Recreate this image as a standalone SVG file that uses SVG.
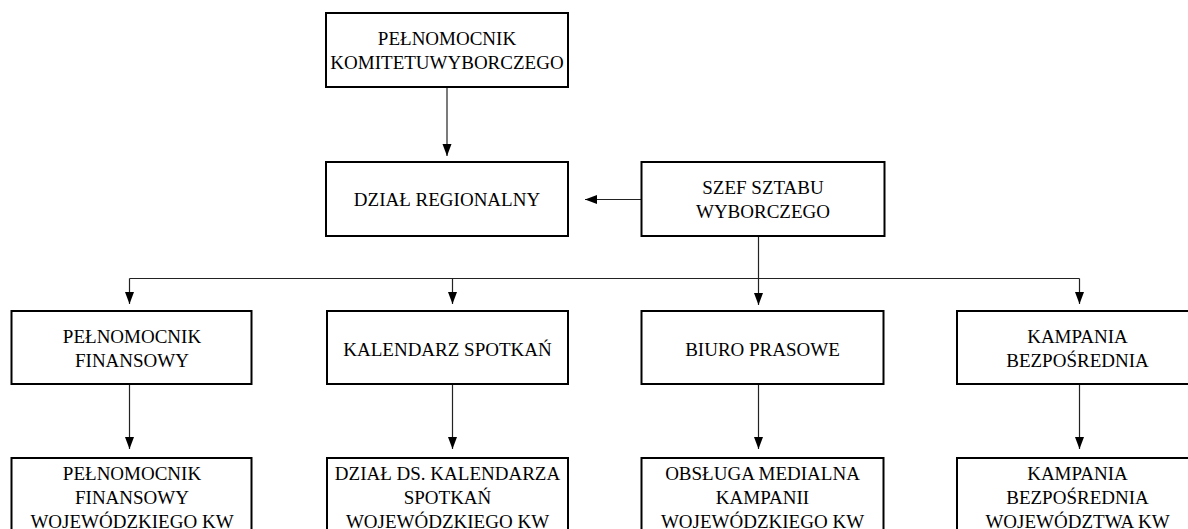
<svg xmlns="http://www.w3.org/2000/svg" width="1188" height="529" viewBox="0 0 1188 529">
  <style>
    .box { fill: #ffffff; stroke: #000000; stroke-width: 2; }
    .lbl { font-family: "Liberation Serif", "DejaVu Serif", serif; font-size: 19px; fill: #000000; text-anchor: middle; }
    .wire { fill: none; stroke: #222222; stroke-width: 1.2; }
  </style>
  <defs>
    <marker id="tip" markerUnits="userSpaceOnUse" markerWidth="12" markerHeight="12" viewBox="0 0 12 12" refX="12" refY="6" orient="auto">
      <path d="M0 1.5 L12 6 L0 10.5 Z" fill="#000000"/>
    </marker>
  </defs>
  <rect width="1188" height="529" fill="#ffffff"/>

  <!-- connectors -->
  <g id="connectors">
    <path class="wire" d="M447 87 V156" marker-end="url(#tip)"/>
    <path class="wire" d="M641 199.5 H585" marker-end="url(#tip)"/>
    <path class="wire" d="M758.5 236 V305" marker-end="url(#tip)"/>
    <path class="wire" d="M129.5 278.5 H1079.5"/>
    <path class="wire" d="M129.5 278.5 V304" marker-end="url(#tip)"/>
    <path class="wire" d="M452.5 278.5 V304" marker-end="url(#tip)"/>
    <path class="wire" d="M1079.5 278.5 V304" marker-end="url(#tip)"/>
    <path class="wire" d="M129.5 385 V449" marker-end="url(#tip)"/>
    <path class="wire" d="M452.5 385 V449" marker-end="url(#tip)"/>
    <path class="wire" d="M758.5 385 V449" marker-end="url(#tip)"/>
    <path class="wire" d="M1079.5 385 V449" marker-end="url(#tip)"/>
  </g>

  <!-- top level -->
  <g id="pelnomocnik-komitetu">
    <rect class="box" x="326" y="13" width="242" height="74"/>
    <text class="lbl" x="447" y="45">PEŁNOMOCNIK</text>
    <text class="lbl" x="447" y="69">KOMITETUWYBORCZEGO</text>
  </g>

  <g id="dzial-regionalny">
    <rect class="box" x="326" y="162" width="242" height="74"/>
    <text class="lbl" x="447" y="206">DZIAŁ REGIONALNY</text>
  </g>

  <g id="szef-sztabu">
    <rect class="box" x="641.5" y="162" width="243" height="74"/>
    <text class="lbl" x="763" y="194">SZEF SZTABU</text>
    <text class="lbl" x="763" y="218">WYBORCZEGO</text>
  </g>

  <!-- second row -->
  <g id="pelnomocnik-finansowy">
    <rect class="box" x="11.5" y="311" width="240" height="73"/>
    <text class="lbl" x="132" y="343">PEŁNOMOCNIK</text>
    <text class="lbl" x="132" y="367">FINANSOWY</text>
  </g>

  <g id="kalendarz-spotkan">
    <rect class="box" x="327" y="311" width="241" height="73"/>
    <text class="lbl" x="447.5" y="356">KALENDARZ SPOTKAŃ</text>
  </g>

  <g id="biuro-prasowe">
    <rect class="box" x="641.5" y="311" width="242" height="73"/>
    <text class="lbl" x="762.5" y="356">BIURO PRASOWE</text>
  </g>

  <g id="kampania-bezposrednia">
    <rect class="box" x="957" y="311" width="241" height="73"/>
    <text class="lbl" x="1077.5" y="343">KAMPANIA</text>
    <text class="lbl" x="1077.5" y="367">BEZPOŚREDNIA</text>
  </g>

  <!-- third row -->
  <g id="pelnomocnik-finansowy-woj">
    <rect class="box" x="11.5" y="458" width="240" height="90"/>
    <text class="lbl" x="132" y="480">PEŁNOMOCNIK</text>
    <text class="lbl" x="132" y="504">FINANSOWY</text>
    <text class="lbl" x="132" y="528">WOJEWÓDZKIEGO KW</text>
  </g>

  <g id="dzial-kalendarza-woj">
    <rect class="box" x="327" y="458" width="241" height="90"/>
    <text class="lbl" x="447.5" y="480">DZIAŁ DS. KALENDARZA</text>
    <text class="lbl" x="447.5" y="504">SPOTKAŃ</text>
    <text class="lbl" x="447.5" y="528">WOJEWÓDZKIEGO KW</text>
  </g>

  <g id="obsluga-medialna-woj">
    <rect class="box" x="641.5" y="458" width="242" height="90"/>
    <text class="lbl" x="762.5" y="480">OBSŁUGA MEDIALNA</text>
    <text class="lbl" x="762.5" y="504">KAMPANII</text>
    <text class="lbl" x="762.5" y="528">WOJEWÓDZKIEGO KW</text>
  </g>

  <g id="kampania-bezposrednia-woj">
    <rect class="box" x="957" y="458" width="241" height="90"/>
    <text class="lbl" x="1077.5" y="480">KAMPANIA</text>
    <text class="lbl" x="1077.5" y="504">BEZPOŚREDNIA</text>
    <text class="lbl" x="1077.5" y="528">WOJEWÓDZTWA KW</text>
  </g>
</svg>
